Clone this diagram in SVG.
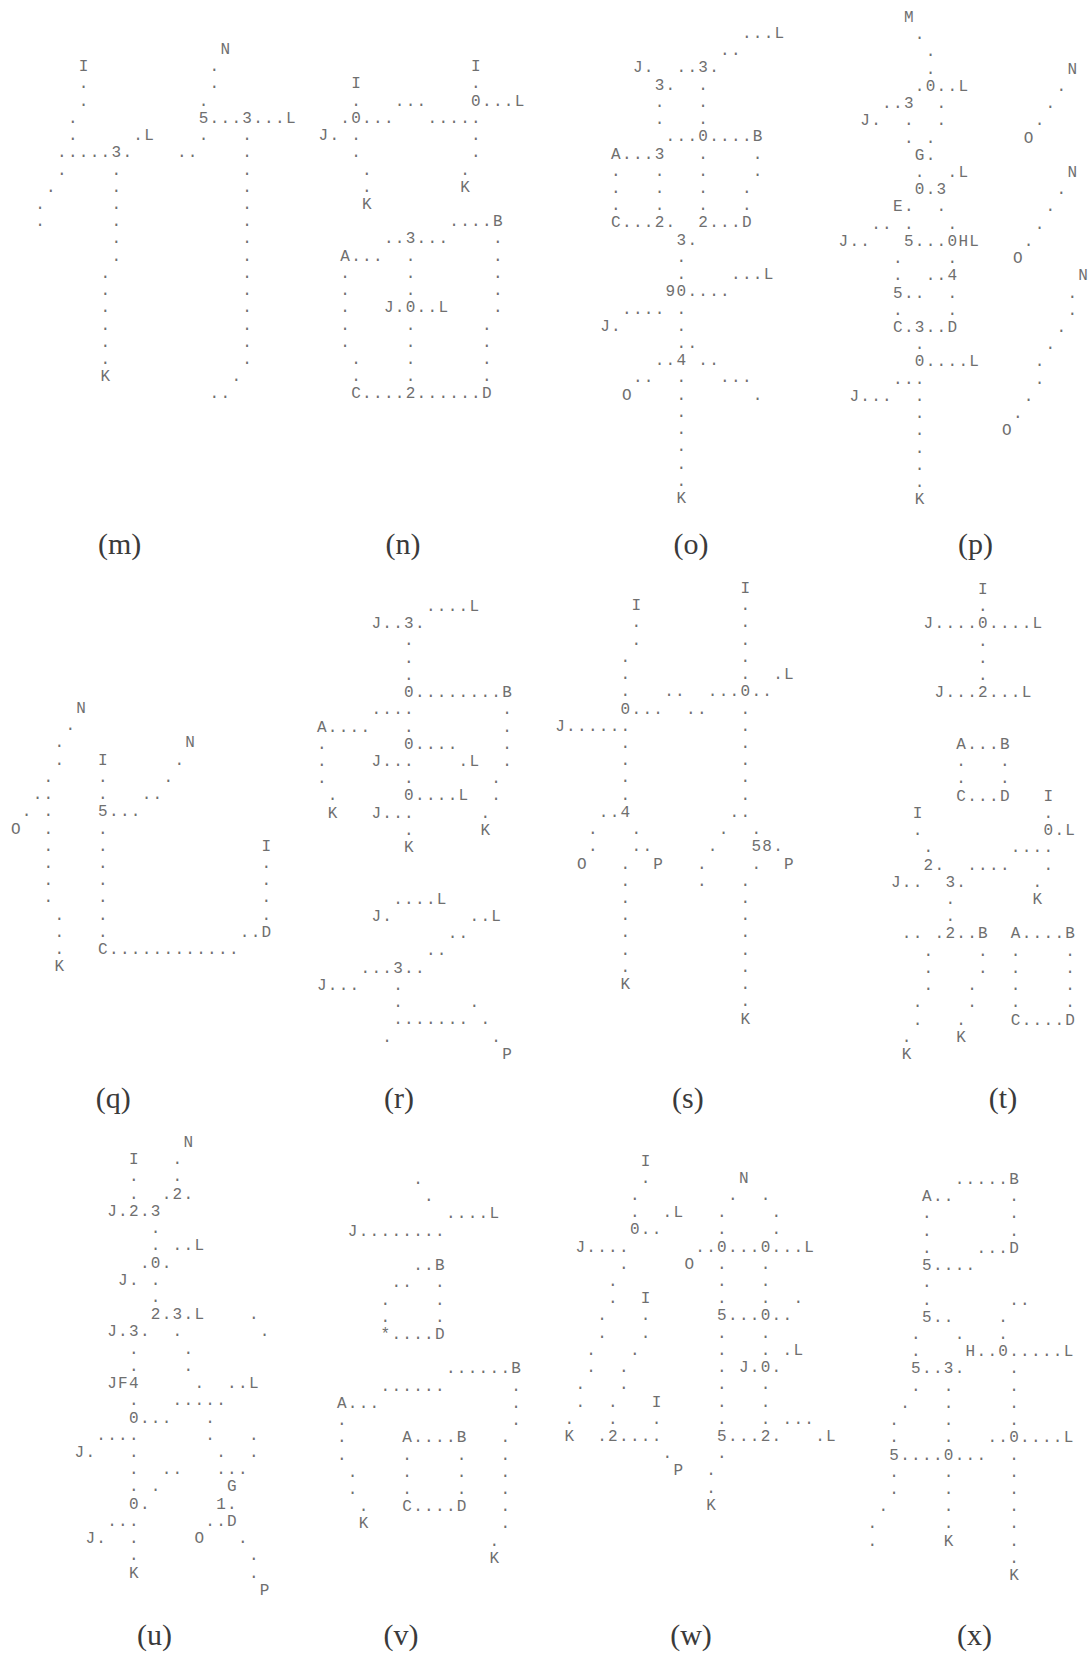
<svg xmlns="http://www.w3.org/2000/svg" width="1092" height="1659" viewBox="0 0 1092 1659">
<style>
.t{font-family:"Liberation Mono","DejaVu Sans Mono",monospace;font-size:16px;letter-spacing:1.3px;fill:#6f6f6f}
.c{font-family:"Liberation Serif","DejaVu Serif",serif;font-size:30px;fill:#3a3a3a;text-anchor:middle}
</style>
<rect width="1092" height="1659" fill="#ffffff"/>
<g id="panel-m" class="t" transform="translate(35.2,54)">
<text x="185.3" y="0">N</text>
<text y="17.22"><tspan x="43.6">I</tspan><tspan x="174.4">.</tspan></text>
<text y="34.44"><tspan x="43.6">.</tspan><tspan x="174.4">.</tspan></text>
<text y="51.66"><tspan x="43.6">.</tspan><tspan x="163.5">.</tspan></text>
<text y="68.88"><tspan x="32.7">.</tspan><tspan x="163.5">5...3...L</tspan></text>
<text y="86.1"><tspan x="32.7">.</tspan><tspan x="98.1">.L</tspan><tspan x="163.5">.</tspan><tspan x="207.1">.</tspan></text>
<text y="103.32"><tspan x="21.8">.....3.</tspan><tspan x="141.7">..</tspan><tspan x="207.1">.</tspan></text>
<text y="120.54"><tspan x="21.8">.</tspan><tspan x="76.3">.</tspan><tspan x="207.1">.</tspan></text>
<text y="137.76"><tspan x="10.9">.</tspan><tspan x="76.3">.</tspan><tspan x="207.1">.</tspan></text>
<text y="154.98"><tspan x="0">.</tspan><tspan x="76.3">.</tspan><tspan x="207.1">.</tspan></text>
<text y="172.2"><tspan x="0">.</tspan><tspan x="76.3">.</tspan><tspan x="207.1">.</tspan></text>
<text y="189.42"><tspan x="76.3">.</tspan><tspan x="207.1">.</tspan></text>
<text y="206.64"><tspan x="76.3">.</tspan><tspan x="207.1">.</tspan></text>
<text y="223.86"><tspan x="65.4">.</tspan><tspan x="207.1">.</tspan></text>
<text y="241.08"><tspan x="65.4">.</tspan><tspan x="207.1">.</tspan></text>
<text y="258.3"><tspan x="65.4">.</tspan><tspan x="207.1">.</tspan></text>
<text y="275.52"><tspan x="65.4">.</tspan><tspan x="207.1">.</tspan></text>
<text y="292.74"><tspan x="65.4">.</tspan><tspan x="207.1">.</tspan></text>
<text y="309.96"><tspan x="65.4">.</tspan><tspan x="207.1">.</tspan></text>
<text y="327.18"><tspan x="65.4">K</tspan><tspan x="196.2">.</tspan></text>
<text x="174.4" y="344.4">..</text>
</g>
<g id="panel-n" class="t" transform="translate(318.5,54)">
<text x="152.6" y="17.22">I</text>
<text y="34.44"><tspan x="32.7">I</tspan><tspan x="152.6">.</tspan></text>
<text y="51.66"><tspan x="32.7">.</tspan><tspan x="76.3">...</tspan><tspan x="152.6">0...L</tspan></text>
<text y="68.88"><tspan x="21.8">.0...</tspan><tspan x="109">.....</tspan></text>
<text y="86.1"><tspan x="0">J.</tspan><tspan x="32.7">.</tspan><tspan x="152.6">.</tspan></text>
<text y="103.32"><tspan x="32.7">.</tspan><tspan x="152.6">.</tspan></text>
<text y="120.54"><tspan x="43.6">.</tspan><tspan x="141.7">.</tspan></text>
<text y="137.76"><tspan x="43.6">.</tspan><tspan x="141.7">K</tspan></text>
<text x="43.6" y="154.98">K</text>
<text x="130.8" y="172.2">....B</text>
<text y="189.42"><tspan x="65.4">..3...</tspan><tspan x="174.4">.</tspan></text>
<text y="206.64"><tspan x="21.8">A...</tspan><tspan x="87.2">.</tspan><tspan x="174.4">.</tspan></text>
<text y="223.86"><tspan x="21.8">.</tspan><tspan x="87.2">.</tspan><tspan x="174.4">.</tspan></text>
<text y="241.08"><tspan x="21.8">.</tspan><tspan x="87.2">.</tspan><tspan x="174.4">.</tspan></text>
<text y="258.3"><tspan x="21.8">.</tspan><tspan x="65.4">J.0..L</tspan><tspan x="174.4">.</tspan></text>
<text y="275.52"><tspan x="21.8">.</tspan><tspan x="87.2">.</tspan><tspan x="163.5">.</tspan></text>
<text y="292.74"><tspan x="21.8">.</tspan><tspan x="87.2">.</tspan><tspan x="163.5">.</tspan></text>
<text y="309.96"><tspan x="32.7">.</tspan><tspan x="87.2">.</tspan><tspan x="163.5">.</tspan></text>
<text y="327.18"><tspan x="32.7">.</tspan><tspan x="87.2">.</tspan><tspan x="163.5">.</tspan></text>
<text x="32.7" y="344.4">C....2......D</text>
</g>
<g id="panel-o" class="t" transform="translate(600.2,38)">
<text x="141.7" y="0">...L</text>
<text x="119.9" y="17.22">..</text>
<text y="34.44"><tspan x="32.7">J.</tspan><tspan x="76.3">..3.</tspan></text>
<text y="51.66"><tspan x="54.5">3.</tspan><tspan x="98.1">.</tspan></text>
<text y="68.88"><tspan x="54.5">.</tspan><tspan x="98.1">.</tspan></text>
<text y="86.1"><tspan x="54.5">.</tspan><tspan x="98.1">.</tspan></text>
<text x="65.4" y="103.32">...0....B</text>
<text y="120.54"><tspan x="10.9">A...3</tspan><tspan x="98.1">.</tspan><tspan x="152.6">.</tspan></text>
<text y="137.76"><tspan x="10.9">.</tspan><tspan x="54.5">.</tspan><tspan x="98.1">.</tspan><tspan x="152.6">.</tspan></text>
<text y="154.98"><tspan x="10.9">.</tspan><tspan x="54.5">.</tspan><tspan x="98.1">.</tspan><tspan x="141.7">.</tspan></text>
<text y="172.2"><tspan x="10.9">.</tspan><tspan x="54.5">.</tspan><tspan x="98.1">.</tspan><tspan x="141.7">.</tspan></text>
<text y="189.42"><tspan x="10.9">C...2.</tspan><tspan x="98.1">2...D</tspan></text>
<text x="76.3" y="206.64">3.</text>
<text x="76.3" y="223.86">.</text>
<text y="241.08"><tspan x="76.3">.</tspan><tspan x="130.8">...L</tspan></text>
<text x="65.4" y="258.3">90....</text>
<text y="275.52"><tspan x="21.8">....</tspan><tspan x="76.3">.</tspan></text>
<text y="292.74"><tspan x="0">J.</tspan><tspan x="76.3">.</tspan></text>
<text x="76.3" y="309.96">..</text>
<text y="327.18"><tspan x="54.5">..4</tspan><tspan x="98.1">..</tspan></text>
<text y="344.4"><tspan x="32.7">..</tspan><tspan x="76.3">.</tspan><tspan x="119.9">...</tspan></text>
<text y="361.62"><tspan x="21.8">O</tspan><tspan x="76.3">.</tspan><tspan x="152.6">.</tspan></text>
<text x="76.3" y="378.84">.</text>
<text x="76.3" y="396.06">.</text>
<text x="76.3" y="413.28">.</text>
<text x="76.3" y="430.5">.</text>
<text x="76.3" y="447.72">.</text>
<text x="76.3" y="464.94">K</text>
</g>
<g id="panel-p" class="t" transform="translate(838.5,22)">
<text x="65.4" y="0">M</text>
<text x="76.3" y="17.22">.</text>
<text x="87.2" y="34.44">.</text>
<text y="51.66"><tspan x="87.2">.</tspan><tspan x="228.9">N</tspan></text>
<text y="68.88"><tspan x="76.3">.0..L</tspan><tspan x="218">.</tspan></text>
<text y="86.1"><tspan x="43.6">..3</tspan><tspan x="98.1">.</tspan><tspan x="207.1">.</tspan></text>
<text y="103.32"><tspan x="21.8">J.</tspan><tspan x="65.4">.</tspan><tspan x="98.1">.</tspan><tspan x="196.2">.</tspan></text>
<text y="120.54"><tspan x="65.4">.</tspan><tspan x="87.2">.</tspan><tspan x="185.3">O</tspan></text>
<text x="76.3" y="137.76">G.</text>
<text y="154.98"><tspan x="76.3">.</tspan><tspan x="109">.L</tspan><tspan x="228.9">N</tspan></text>
<text y="172.2"><tspan x="76.3">0.3</tspan><tspan x="218">.</tspan></text>
<text y="189.42"><tspan x="54.5">E.</tspan><tspan x="98.1">.</tspan><tspan x="207.1">.</tspan></text>
<text y="206.64"><tspan x="32.7">..</tspan><tspan x="65.4">.</tspan><tspan x="109">.</tspan><tspan x="196.2">.</tspan></text>
<text y="223.86"><tspan x="0">J..</tspan><tspan x="65.4">5...0HL</tspan><tspan x="185.3">.</tspan></text>
<text y="241.08"><tspan x="54.5">.</tspan><tspan x="109">.</tspan><tspan x="174.4">O</tspan></text>
<text y="258.3"><tspan x="54.5">.</tspan><tspan x="87.2">..4</tspan><tspan x="239.8">N</tspan></text>
<text y="275.52"><tspan x="54.5">5..</tspan><tspan x="109">.</tspan><tspan x="228.9">.</tspan></text>
<text y="292.74"><tspan x="54.5">.</tspan><tspan x="109">.</tspan><tspan x="228.9">.</tspan></text>
<text y="309.96"><tspan x="54.5">C.3..D</tspan><tspan x="218">.</tspan></text>
<text y="327.18"><tspan x="76.3">.</tspan><tspan x="207.1">.</tspan></text>
<text y="344.4"><tspan x="76.3">0....L</tspan><tspan x="196.2">.</tspan></text>
<text y="361.62"><tspan x="54.5">...</tspan><tspan x="196.2">.</tspan></text>
<text y="378.84"><tspan x="10.9">J...</tspan><tspan x="76.3">.</tspan><tspan x="185.3">.</tspan></text>
<text y="396.06"><tspan x="76.3">.</tspan><tspan x="174.4">.</tspan></text>
<text y="413.28"><tspan x="76.3">.</tspan><tspan x="163.5">O</tspan></text>
<text x="76.3" y="430.5">.</text>
<text x="76.3" y="447.72">.</text>
<text x="76.3" y="464.94">.</text>
<text x="76.3" y="482.16">K</text>
</g>
<g id="panel-q" class="t" transform="translate(10.9,713)">
<text x="65.4" y="0">N</text>
<text x="54.5" y="17.22">.</text>
<text y="34.44"><tspan x="43.6">.</tspan><tspan x="174.4">N</tspan></text>
<text y="51.66"><tspan x="43.6">.</tspan><tspan x="87.2">I</tspan><tspan x="163.5">.</tspan></text>
<text y="68.88"><tspan x="32.7">.</tspan><tspan x="87.2">.</tspan><tspan x="152.6">.</tspan></text>
<text y="86.1"><tspan x="21.8">..</tspan><tspan x="87.2">.</tspan><tspan x="130.8">..</tspan></text>
<text y="103.32"><tspan x="10.9">.</tspan><tspan x="32.7">.</tspan><tspan x="87.2">5...</tspan></text>
<text y="120.54"><tspan x="0">O</tspan><tspan x="32.7">.</tspan><tspan x="87.2">.</tspan></text>
<text y="137.76"><tspan x="32.7">.</tspan><tspan x="87.2">.</tspan><tspan x="250.7">I</tspan></text>
<text y="154.98"><tspan x="32.7">.</tspan><tspan x="87.2">.</tspan><tspan x="250.7">.</tspan></text>
<text y="172.2"><tspan x="32.7">.</tspan><tspan x="87.2">.</tspan><tspan x="250.7">.</tspan></text>
<text y="189.42"><tspan x="32.7">.</tspan><tspan x="87.2">.</tspan><tspan x="250.7">.</tspan></text>
<text y="206.64"><tspan x="43.6">.</tspan><tspan x="87.2">.</tspan><tspan x="250.7">.</tspan></text>
<text y="223.86"><tspan x="43.6">.</tspan><tspan x="87.2">.</tspan><tspan x="228.9">..D</tspan></text>
<text y="241.08"><tspan x="43.6">.</tspan><tspan x="87.2">C............</tspan></text>
<text x="43.6" y="258.3">K</text>
</g>
<g id="panel-r" class="t" transform="translate(316.9,611)">
<text x="109" y="0">....L</text>
<text x="54.5" y="17.22">J..3.</text>
<text x="87.2" y="34.44">.</text>
<text x="87.2" y="51.66">.</text>
<text x="87.2" y="68.88">.</text>
<text x="87.2" y="86.1">0........B</text>
<text y="103.32"><tspan x="54.5">....</tspan><tspan x="185.3">.</tspan></text>
<text y="120.54"><tspan x="0">A....</tspan><tspan x="87.2">.</tspan><tspan x="185.3">.</tspan></text>
<text y="137.76"><tspan x="0">.</tspan><tspan x="87.2">0....</tspan><tspan x="185.3">.</tspan></text>
<text y="154.98"><tspan x="0">.</tspan><tspan x="54.5">J...</tspan><tspan x="141.7">.L</tspan><tspan x="185.3">.</tspan></text>
<text y="172.2"><tspan x="0">.</tspan><tspan x="87.2">.</tspan><tspan x="174.4">.</tspan></text>
<text y="189.42"><tspan x="10.9">.</tspan><tspan x="87.2">0....L</tspan><tspan x="174.4">.</tspan></text>
<text y="206.64"><tspan x="10.9">K</tspan><tspan x="54.5">J...</tspan><tspan x="163.5">.</tspan></text>
<text y="223.86"><tspan x="87.2">.</tspan><tspan x="163.5">K</tspan></text>
<text x="87.2" y="241.08">K</text>
<text x="76.3" y="292.74">....L</text>
<text y="309.96"><tspan x="54.5">J.</tspan><tspan x="152.6">..L</tspan></text>
<text x="130.8" y="327.18">..</text>
<text x="109" y="344.4">..</text>
<text x="43.6" y="361.62">...3..</text>
<text y="378.84"><tspan x="0">J...</tspan><tspan x="76.3">.</tspan></text>
<text y="396.06"><tspan x="76.3">.</tspan><tspan x="152.6">.</tspan></text>
<text y="413.28"><tspan x="76.3">.......</tspan><tspan x="163.5">.</tspan></text>
<text y="430.5"><tspan x="65.4">.</tspan><tspan x="174.4">.</tspan></text>
<text x="185.3" y="447.72">P</text>
</g>
<g id="panel-s" class="t" transform="translate(555.2,593)">
<text x="185.3" y="0">I</text>
<text y="17.22"><tspan x="76.3">I</tspan><tspan x="185.3">.</tspan></text>
<text y="34.44"><tspan x="76.3">.</tspan><tspan x="185.3">.</tspan></text>
<text y="51.66"><tspan x="76.3">.</tspan><tspan x="185.3">.</tspan></text>
<text y="68.88"><tspan x="65.4">.</tspan><tspan x="185.3">.</tspan></text>
<text y="86.1"><tspan x="65.4">.</tspan><tspan x="185.3">.</tspan><tspan x="218">.L</tspan></text>
<text y="103.32"><tspan x="65.4">.</tspan><tspan x="109">..</tspan><tspan x="152.6">...0..</tspan></text>
<text y="120.54"><tspan x="65.4">0...</tspan><tspan x="130.8">..</tspan><tspan x="185.3">.</tspan></text>
<text y="137.76"><tspan x="0">J......</tspan><tspan x="185.3">.</tspan></text>
<text y="154.98"><tspan x="65.4">.</tspan><tspan x="185.3">.</tspan></text>
<text y="172.2"><tspan x="65.4">.</tspan><tspan x="185.3">.</tspan></text>
<text y="189.42"><tspan x="65.4">.</tspan><tspan x="185.3">.</tspan></text>
<text y="206.64"><tspan x="65.4">.</tspan><tspan x="185.3">.</tspan></text>
<text y="223.86"><tspan x="43.6">..4</tspan><tspan x="174.4">..</tspan></text>
<text y="241.08"><tspan x="32.7">.</tspan><tspan x="76.3">.</tspan><tspan x="163.5">.</tspan><tspan x="196.2">.</tspan></text>
<text y="258.3"><tspan x="32.7">.</tspan><tspan x="76.3">..</tspan><tspan x="152.6">.</tspan><tspan x="196.2">58.</tspan></text>
<text y="275.52"><tspan x="21.8">O</tspan><tspan x="65.4">.</tspan><tspan x="98.1">P</tspan><tspan x="141.7">.</tspan><tspan x="196.2">.</tspan><tspan x="228.9">P</tspan></text>
<text y="292.74"><tspan x="65.4">.</tspan><tspan x="141.7">.</tspan><tspan x="185.3">.</tspan></text>
<text y="309.96"><tspan x="65.4">.</tspan><tspan x="185.3">.</tspan></text>
<text y="327.18"><tspan x="65.4">.</tspan><tspan x="185.3">.</tspan></text>
<text y="344.4"><tspan x="65.4">.</tspan><tspan x="185.3">.</tspan></text>
<text y="361.62"><tspan x="65.4">.</tspan><tspan x="185.3">.</tspan></text>
<text y="378.84"><tspan x="65.4">.</tspan><tspan x="185.3">.</tspan></text>
<text y="396.06"><tspan x="65.4">K</tspan><tspan x="185.3">.</tspan></text>
<text x="185.3" y="413.28">.</text>
<text x="185.3" y="430.5">K</text>
</g>
<g id="panel-t" class="t" transform="translate(890.9,594)">
<text x="87.2" y="0">I</text>
<text x="87.2" y="17.22">.</text>
<text x="32.7" y="34.44">J....0....L</text>
<text x="87.2" y="51.66">.</text>
<text x="87.2" y="68.88">.</text>
<text x="87.2" y="86.1">.</text>
<text x="43.6" y="103.32">J...2...L</text>
<text x="65.4" y="154.98">A...B</text>
<text y="172.2"><tspan x="65.4">.</tspan><tspan x="109">.</tspan></text>
<text y="189.42"><tspan x="65.4">.</tspan><tspan x="109">.</tspan></text>
<text y="206.64"><tspan x="65.4">C...D</tspan><tspan x="152.6">I</tspan></text>
<text y="223.86"><tspan x="21.8">I</tspan><tspan x="152.6">.</tspan></text>
<text y="241.08"><tspan x="21.8">.</tspan><tspan x="152.6">0.L</tspan></text>
<text y="258.3"><tspan x="32.7">.</tspan><tspan x="119.9">....</tspan></text>
<text y="275.52"><tspan x="32.7">2.</tspan><tspan x="76.3">....</tspan><tspan x="152.6">.</tspan></text>
<text y="292.74"><tspan x="0">J..</tspan><tspan x="54.5">3.</tspan><tspan x="141.7">.</tspan></text>
<text y="309.96"><tspan x="54.5">.</tspan><tspan x="141.7">K</tspan></text>
<text x="54.5" y="327.18">.</text>
<text y="344.4"><tspan x="10.9">..</tspan><tspan x="43.6">.2..B</tspan><tspan x="119.9">A....B</tspan></text>
<text y="361.62"><tspan x="32.7">.</tspan><tspan x="87.2">.</tspan><tspan x="119.9">.</tspan><tspan x="174.4">.</tspan></text>
<text y="378.84"><tspan x="32.7">.</tspan><tspan x="87.2">.</tspan><tspan x="119.9">.</tspan><tspan x="174.4">.</tspan></text>
<text y="396.06"><tspan x="32.7">.</tspan><tspan x="76.3">.</tspan><tspan x="119.9">.</tspan><tspan x="174.4">.</tspan></text>
<text y="413.28"><tspan x="21.8">.</tspan><tspan x="76.3">.</tspan><tspan x="119.9">.</tspan><tspan x="174.4">.</tspan></text>
<text y="430.5"><tspan x="21.8">.</tspan><tspan x="65.4">.</tspan><tspan x="119.9">C....D</tspan></text>
<text y="447.72"><tspan x="10.9">.</tspan><tspan x="65.4">K</tspan></text>
<text x="10.9" y="464.94">K</text>
</g>
<g id="panel-u" class="t" transform="translate(74.5,1147)">
<text x="109" y="0">N</text>
<text y="17.22"><tspan x="54.5">I</tspan><tspan x="98.1">.</tspan></text>
<text y="34.44"><tspan x="54.5">.</tspan><tspan x="98.1">.</tspan></text>
<text y="51.66"><tspan x="54.5">.</tspan><tspan x="87.2">.2.</tspan></text>
<text x="32.7" y="68.88">J.2.3</text>
<text x="76.3" y="86.1">.</text>
<text y="103.32"><tspan x="76.3">.</tspan><tspan x="98.1">..L</tspan></text>
<text x="65.4" y="120.54">.0.</text>
<text y="137.76"><tspan x="43.6">J.</tspan><tspan x="76.3">.</tspan></text>
<text x="76.3" y="154.98">.</text>
<text y="172.2"><tspan x="76.3">2.3.L</tspan><tspan x="174.4">.</tspan></text>
<text y="189.42"><tspan x="32.7">J.3.</tspan><tspan x="98.1">.</tspan><tspan x="185.3">.</tspan></text>
<text y="206.64"><tspan x="54.5">.</tspan><tspan x="109">.</tspan></text>
<text y="223.86"><tspan x="54.5">.</tspan><tspan x="109">.</tspan></text>
<text y="241.08"><tspan x="32.7">JF4</tspan><tspan x="119.9">.</tspan><tspan x="152.6">..L</tspan></text>
<text y="258.3"><tspan x="54.5">.</tspan><tspan x="98.1">.....</tspan></text>
<text y="275.52"><tspan x="54.5">0...</tspan><tspan x="130.8">.</tspan></text>
<text y="292.74"><tspan x="21.8">....</tspan><tspan x="130.8">.</tspan><tspan x="174.4">.</tspan></text>
<text y="309.96"><tspan x="0">J.</tspan><tspan x="54.5">.</tspan><tspan x="141.7">.</tspan><tspan x="174.4">.</tspan></text>
<text y="327.18"><tspan x="54.5">.</tspan><tspan x="87.2">..</tspan><tspan x="141.7">...</tspan></text>
<text y="344.4"><tspan x="54.5">.</tspan><tspan x="76.3">.</tspan><tspan x="152.6">G</tspan></text>
<text y="361.62"><tspan x="54.5">0.</tspan><tspan x="141.7">1.</tspan></text>
<text y="378.84"><tspan x="32.7">...</tspan><tspan x="130.8">..D</tspan></text>
<text y="396.06"><tspan x="10.9">J.</tspan><tspan x="54.5">.</tspan><tspan x="119.9">O</tspan><tspan x="163.5">.</tspan></text>
<text y="413.28"><tspan x="54.5">.</tspan><tspan x="174.4">.</tspan></text>
<text y="430.5"><tspan x="54.5">K</tspan><tspan x="174.4">.</tspan></text>
<text x="185.3" y="447.72">P</text>
</g>
<g id="panel-v" class="t" transform="translate(336.9,1184)">
<text x="76.3" y="0">.</text>
<text x="87.2" y="17.22">.</text>
<text x="109" y="34.44">....L</text>
<text x="10.9" y="51.66">J........</text>
<text x="76.3" y="86.1">..B</text>
<text y="103.32"><tspan x="54.5">..</tspan><tspan x="98.1">.</tspan></text>
<text y="120.54"><tspan x="43.6">.</tspan><tspan x="98.1">.</tspan></text>
<text y="137.76"><tspan x="43.6">.</tspan><tspan x="98.1">.</tspan></text>
<text x="43.6" y="154.98">*....D</text>
<text x="109" y="189.42">......B</text>
<text y="206.64"><tspan x="43.6">......</tspan><tspan x="174.4">.</tspan></text>
<text y="223.86"><tspan x="0">A...</tspan><tspan x="174.4">.</tspan></text>
<text y="241.08"><tspan x="0">.</tspan><tspan x="174.4">.</tspan></text>
<text y="258.3"><tspan x="0">.</tspan><tspan x="65.4">A....B</tspan><tspan x="163.5">.</tspan></text>
<text y="275.52"><tspan x="0">.</tspan><tspan x="65.4">.</tspan><tspan x="119.9">.</tspan><tspan x="163.5">.</tspan></text>
<text y="292.74"><tspan x="10.9">.</tspan><tspan x="65.4">.</tspan><tspan x="119.9">.</tspan><tspan x="163.5">.</tspan></text>
<text y="309.96"><tspan x="10.9">.</tspan><tspan x="65.4">.</tspan><tspan x="119.9">.</tspan><tspan x="163.5">.</tspan></text>
<text y="327.18"><tspan x="21.8">.</tspan><tspan x="65.4">C....D</tspan><tspan x="163.5">.</tspan></text>
<text y="344.4"><tspan x="21.8">K</tspan><tspan x="163.5">.</tspan></text>
<text x="152.6" y="361.62">.</text>
<text x="152.6" y="378.84">K</text>
</g>
<g id="panel-w" class="t" transform="translate(564.5,1165.5)">
<text x="76.3" y="0">I</text>
<text y="17.22"><tspan x="76.3">.</tspan><tspan x="174.4">N</tspan></text>
<text y="34.44"><tspan x="65.4">.</tspan><tspan x="163.5">.</tspan><tspan x="196.2">.</tspan></text>
<text y="51.66"><tspan x="65.4">.</tspan><tspan x="98.1">.L</tspan><tspan x="152.6">.</tspan><tspan x="207.1">.</tspan></text>
<text y="68.88"><tspan x="65.4">0..</tspan><tspan x="152.6">.</tspan><tspan x="207.1">.</tspan></text>
<text y="86.1"><tspan x="10.9">J....</tspan><tspan x="130.8">..0...0...L</tspan></text>
<text y="103.32"><tspan x="54.5">.</tspan><tspan x="119.9">O</tspan><tspan x="152.6">.</tspan><tspan x="196.2">.</tspan></text>
<text y="120.54"><tspan x="43.6">.</tspan><tspan x="152.6">.</tspan><tspan x="196.2">.</tspan></text>
<text y="137.76"><tspan x="43.6">.</tspan><tspan x="76.3">I</tspan><tspan x="152.6">.</tspan><tspan x="196.2">.</tspan><tspan x="228.9">.</tspan></text>
<text y="154.98"><tspan x="32.7">.</tspan><tspan x="76.3">.</tspan><tspan x="152.6">5...0..</tspan></text>
<text y="172.2"><tspan x="32.7">.</tspan><tspan x="76.3">.</tspan><tspan x="152.6">.</tspan><tspan x="196.2">.</tspan></text>
<text y="189.42"><tspan x="21.8">.</tspan><tspan x="65.4">.</tspan><tspan x="152.6">.</tspan><tspan x="196.2">.</tspan><tspan x="218">.L</tspan></text>
<text y="206.64"><tspan x="21.8">.</tspan><tspan x="54.5">.</tspan><tspan x="152.6">.</tspan><tspan x="174.4">J.0.</tspan></text>
<text y="223.86"><tspan x="10.9">.</tspan><tspan x="54.5">.</tspan><tspan x="152.6">.</tspan><tspan x="196.2">.</tspan></text>
<text y="241.08"><tspan x="10.9">.</tspan><tspan x="43.6">.</tspan><tspan x="87.2">I</tspan><tspan x="152.6">.</tspan><tspan x="196.2">.</tspan></text>
<text y="258.3"><tspan x="0">.</tspan><tspan x="43.6">.</tspan><tspan x="87.2">.</tspan><tspan x="152.6">.</tspan><tspan x="196.2">.</tspan><tspan x="218">...</tspan></text>
<text y="275.52"><tspan x="0">K</tspan><tspan x="32.7">.2....</tspan><tspan x="152.6">5...2.</tspan><tspan x="250.7">.L</tspan></text>
<text y="292.74"><tspan x="98.1">.</tspan><tspan x="152.6">.</tspan></text>
<text y="309.96"><tspan x="109">P</tspan><tspan x="141.7">.</tspan></text>
<text x="141.7" y="327.18">.</text>
<text x="141.7" y="344.4">K</text>
</g>
<g id="panel-x" class="t" transform="translate(867.5,1184)">
<text x="87.2" y="0">.....B</text>
<text y="17.22"><tspan x="54.5">A..</tspan><tspan x="141.7">.</tspan></text>
<text y="34.44"><tspan x="54.5">.</tspan><tspan x="141.7">.</tspan></text>
<text y="51.66"><tspan x="54.5">.</tspan><tspan x="141.7">.</tspan></text>
<text y="68.88"><tspan x="54.5">.</tspan><tspan x="109">...D</tspan></text>
<text x="54.5" y="86.1">5....</text>
<text x="54.5" y="103.32">.</text>
<text y="120.54"><tspan x="54.5">.</tspan><tspan x="141.7">..</tspan></text>
<text y="137.76"><tspan x="54.5">5..</tspan><tspan x="130.8">.</tspan></text>
<text y="154.98"><tspan x="43.6">.</tspan><tspan x="87.2">.</tspan><tspan x="130.8">.</tspan></text>
<text y="172.2"><tspan x="43.6">.</tspan><tspan x="98.1">H..0.....L</tspan></text>
<text y="189.42"><tspan x="43.6">5..3.</tspan><tspan x="141.7">.</tspan></text>
<text y="206.64"><tspan x="43.6">.</tspan><tspan x="76.3">.</tspan><tspan x="141.7">.</tspan></text>
<text y="223.86"><tspan x="32.7">.</tspan><tspan x="76.3">.</tspan><tspan x="141.7">.</tspan></text>
<text y="241.08"><tspan x="21.8">.</tspan><tspan x="76.3">.</tspan><tspan x="141.7">.</tspan></text>
<text y="258.3"><tspan x="21.8">.</tspan><tspan x="76.3">.</tspan><tspan x="119.9">..0....L</tspan></text>
<text y="275.52"><tspan x="21.8">5....0...</tspan><tspan x="141.7">.</tspan></text>
<text y="292.74"><tspan x="21.8">.</tspan><tspan x="76.3">.</tspan><tspan x="141.7">.</tspan></text>
<text y="309.96"><tspan x="21.8">.</tspan><tspan x="76.3">.</tspan><tspan x="141.7">.</tspan></text>
<text y="327.18"><tspan x="10.9">.</tspan><tspan x="76.3">.</tspan><tspan x="141.7">.</tspan></text>
<text y="344.4"><tspan x="0">.</tspan><tspan x="76.3">.</tspan><tspan x="141.7">.</tspan></text>
<text y="361.62"><tspan x="0">.</tspan><tspan x="76.3">K</tspan><tspan x="141.7">.</tspan></text>
<text x="141.7" y="378.84">.</text>
<text x="141.7" y="396.06">K</text>
</g>
<g id="captions" class="c">
<text x="119.6" y="554">(m)</text>
<text x="403" y="554">(n)</text>
<text x="691" y="554">(o)</text>
<text x="975.6" y="554">(p)</text>
<text x="113.2" y="1108">(q)</text>
<text x="399" y="1108">(r)</text>
<text x="687.8" y="1108">(s)</text>
<text x="1003" y="1108">(t)</text>
<text x="154.5" y="1645">(u)</text>
<text x="401" y="1645">(v)</text>
<text x="691" y="1645">(w)</text>
<text x="974.5" y="1645">(x)</text>
</g>
</svg>
